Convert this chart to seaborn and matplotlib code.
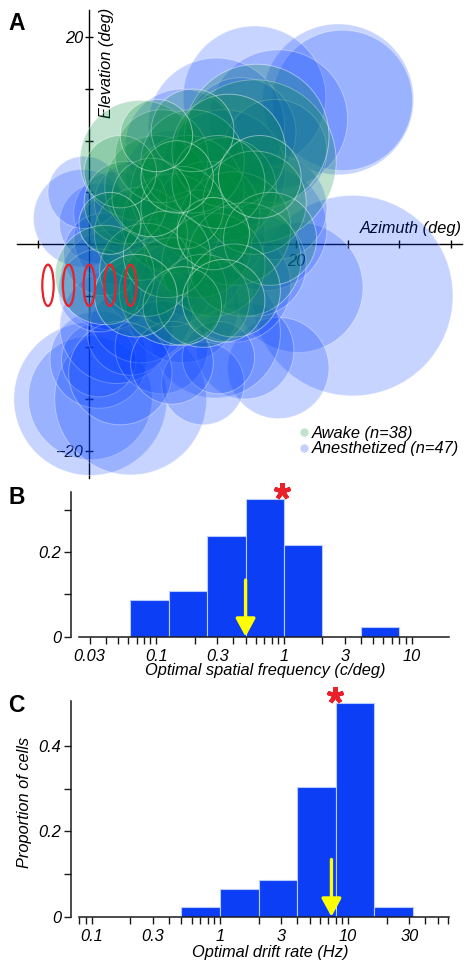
import numpy as np
import pandas as pd
import matplotlib
matplotlib.use("Agg")
import matplotlib.pyplot as plt
import seaborn as sns
from matplotlib.patches import Circle, Ellipse
from matplotlib.lines import Line2D
from matplotlib.ticker import FixedLocator, FixedFormatter, NullLocator

# ---------------- data ----------------
# Panel A: receptive fields (centre azimuth, centre elevation, radius), degrees
awake_x = [4.9, 16.0, 16.2, 13.1, 6.5, 9.5, 11.5, 8.0, 10.5, 14.0, 12.0, 8.1, 5.0,
           3.5, 7.0, 10.0, 13.5, 16.0, 15.0, 11.0, 5.5, 1.5, 9.0, 12.5, 7.5, 6.0,
           17.5, 14.0, 9.0, 3.0, 10.0, 12.0, 4.5, 16.5, 8.5, 2.0, 13.0, 6.5]
awake_y = [8.1, 8.0, 10.4, 5.3, 5.5, 5.0, 3.0, 2.0, 0.0, 1.5, -2.0, -4.6, 1.0,
           4.0, 8.5, 8.0, 9.0, 4.0, -1.5, -5.5, -2.5, -3.0, 3.5, 6.0, -1.0, 4.5,
           0.5, -4.5, -6.0, 7.0, 11.0, 1.0, -5.0, 6.5, 6.5, 2.0, -5.5, 10.5]
awake_r = [5.8, 7.9, 7.0, 5.0, 5.0, 5.5, 5.0, 4.8, 5.2, 5.5, 5.0, 5.2, 4.5,
           4.0, 4.5, 5.0, 5.5, 5.0, 5.5, 4.5, 4.5, 4.8, 4.0, 4.5, 4.2, 3.8,
           4.5, 4.5, 3.8, 3.5, 4.0, 3.5, 4.0, 4.0, 3.5, 3.0, 4.0, 3.5]

anes_x = [24.1, 24.5, 16.0, 18.3, 12.3, 14.7, 25.5, 20.2, 18.3, 15.1, 12.2, 0.1,
          0.1, 4.0, 0.9, 0.9, 2.65, 3.9, -0.7, 1.0, 2.0, 17.0, 3.0, 6.0, 9.0,
          2.5, 14.0, 10.0, 5.0, 7.5, 18.0, 12.0, 1.5, -0.5, 16.0, 7.0, 11.0,
          3.0, 8.0, 9.0, 13.0, 18.0, 4.5, 8.0, 1.0, 12.5, 8.0]
anes_y = [14.0, 13.9, 14.2, 12.1, 11.4, 10.8, -5.0, -4.2, -12.0, -10.3, -8.6, -15.0,
          -14.9, -15.0, -11.2, -11.2, -8.0, -8.6, 2.5, 2.0, -3.5, 1.5, 0.5, -3.0, -6.0,
          3.0, -4.0, -2.0, -6.5, 2.0, 3.5, 1.0, -1.0, 5.0, -2.0, -10.0, -13.5,
          -12.5, 6.5, 9.5, 7.0, 9.0, 4.0, -4.0, -4.5, -11.0, -11.5]
anes_r = [7.3, 6.8, 6.9, 6.7, 6.6, 5.3, 9.7, 6.3, 4.9, 4.7, 6.3, 7.4,
          6.0, 7.35, 4.7, 3.6, 5.5, 4.1, 4.7, 3.9, 4.8, 6.0, 4.5, 5.0, 5.5,
          4.0, 5.5, 5.0, 5.0, 4.5, 5.0, 5.0, 4.0, 3.5, 5.0, 4.5, 4.0,
          5.0, 4.5, 5.5, 6.0, 5.0, 4.0, 4.0, 4.0, 3.5, 4.0]

ellipse_x = [-4, -2, 0, 2, 4]
ellipse_y = [-4, -4, -4, -4, -4]

legend_labels = ["Awake (n=38)", "Anesthetized (n=47)"]
A_xticks = [-5, 0, 5, 10, 15, 20, 25, 30, 35]
A_xticklabels = ["", "", "", "", "", "20", "", "", ""]
A_yticks = [-20, -15, -10, -5, 0, 5, 10, 15, 20]
A_yticklabels = ["\u221220", "", "", "", "", "", "", "", "20"]

# Panel B: optimal spatial frequency
sf_edges = [0.0625, 0.125, 0.25, 0.5, 1, 2, 4, 8]
sf_props = [0.087, 0.109, 0.239, 0.326, 0.217, 0.0, 0.022]
sf_median = 0.5
sf_star = (0.96, 0.344)
sf_ticks = [0.03, 0.04, 0.05, 0.06, 0.07, 0.08, 0.09, 0.1, 0.2, 0.3, 0.4, 0.5,
            0.6, 0.7, 0.8, 0.9, 1, 2, 3, 4, 5, 6, 7, 8, 9, 10]
sf_labelled = {0.03: "0.03", 0.1: "0.1", 0.3: "0.3", 1: "1", 3: "3", 10: "10"}
B_yticks = [0, 0.1, 0.2, 0.3]
B_yticklabels = ["0", "", "0.2", ""]

# Panel C: optimal drift rate
tf_edges = [0.5, 1, 2, 4, 8, 16, 32]
tf_props = [0.022, 0.065, 0.087, 0.304, 0.5, 0.022]
tf_median = 7.4
tf_star = (7.9, 0.52)
tf_ticks = [0.08, 0.09, 0.1, 0.2, 0.3, 0.4, 0.5, 0.6, 0.7, 0.8, 0.9, 1, 2, 3, 4,
            5, 6, 7, 8, 9, 10, 20, 30, 40, 50, 60]
tf_labelled = {0.1: "0.1", 0.3: "0.3", 1: "1", 3: "3", 10: "10", 30: "30"}
C_yticks = [0, 0.1, 0.2, 0.3, 0.4]
C_yticklabels = ["0", "", "0.2", "", "0.4"]

# ---------------- style ----------------
sns.set_style("ticks")
plt.rcParams['font.family'] = ['Liberation Sans', 'DejaVu Sans']
plt.rcParams['font.style'] = 'italic'
plt.rcParams['font.size'] = 11.8
plt.rcParams['text.color'] = 'black'
plt.rcParams['axes.labelcolor'] = 'black'
plt.rcParams['xtick.color'] = 'black'
plt.rcParams['ytick.color'] = 'black'

BAR = '#0b3ef5'
BAR_EDGE = '#b8ccff'
YELLOW = '#ffff00'
RED = '#e8212b'

W, H = 471, 971
fig = plt.figure(figsize=(W / 100, H / 100), dpi=100)


def fx(px):
    return px / W


def fy(py):
    return 1 - py / H


# ---------------- Panel A ----------------
PPD = 10.33          # pixels per degree
ox, oy = 89.3, 244.0  # origin in pixels
axA = fig.add_axes([0, fy(490), 1, 490 / H])
axA.set_facecolor('none')
axA.set_xlim(-ox / PPD, (W - ox) / PPD)
axA.set_ylim((oy - 490) / PPD, oy / PPD)

for x, y, r in zip(anes_x, anes_y, anes_r):
    axA.add_patch(Circle((x, y), r, facecolor=(0.0, 0.24, 1.0, 0.22),
                         edgecolor=(1, 1, 1, 0.35), lw=0.7, zorder=1))
for x, y, r in zip(awake_x, awake_y, awake_r):
    axA.add_patch(Circle((x, y), r, facecolor=(0.0, 0.55, 0.24, 0.25),
                         edgecolor=(1, 1, 1, 0.45), lw=0.7, zorder=1.1))
for ex, ey in zip(ellipse_x, ellipse_y):
    axA.add_patch(Ellipse((ex, ey), 1.1, 4.0, fill=False, edgecolor=RED,
                          lw=1.6, zorder=4))

for s in ['top', 'right']:
    axA.spines[s].set_visible(False)
axA.spines['left'].set_position(('data', 0))
axA.spines['bottom'].set_position(('data', 0))
axA.spines['left'].set_bounds(-22.65, 22.65)
axA.spines['bottom'].set_bounds(-7.03, 36.05)
for s in ['left', 'bottom']:
    axA.spines[s].set_linewidth(1.0)
    axA.spines[s].set_color('black')
    axA.spines[s].set_zorder(0.6)
axA.set_xticks(A_xticks)
axA.set_xticklabels(A_xticklabels)
axA.set_yticks(A_yticks)
axA.set_yticklabels(A_yticklabels)
axA.tick_params(direction='inout', length=6, width=1.0, labelsize=11.8, color='black',
                labelcolor='black')
axA.tick_params(axis='x', pad=4)
axA.tick_params(axis='y', pad=1)
axA.set_xlabel("Azimuth (deg)", ha='right', va='center', fontsize=11.8, color='black')
axA.xaxis.set_label_coords(462 / W, (490 - 229) / 490)
axA.set_ylabel("Elevation (deg)", ha='center', va='center', fontsize=11.8, color='black')
axA.yaxis.set_label_coords(106 / W, (490 - 63) / 490)

handles = [Line2D([], [], ls='', marker='o', ms=6, markerfacecolor='#bfe3cd', markeredgecolor='none'),
           Line2D([], [], ls='', marker='o', ms=6, markerfacecolor='#c3d2fb', markeredgecolor='none')]
leg = axA.legend(handles, legend_labels, loc='center left',
                 bbox_to_anchor=(298 / W, (490 - 441) / 490), frameon=False,
                 handlelength=0.7, handletextpad=0.15, borderpad=0, borderaxespad=0,
                 labelspacing=0.05, prop={'style': 'italic', 'size': 11.8},
                 labelcolor='black')
leg.set_zorder(5)

# ---------------- Panel B ----------------
axB = fig.add_axes([fx(79), fy(636.7), (449.3 - 79) / W, (636.7 - 491.7) / H])
sf_e = np.array(sf_edges, dtype=float)
dfB = pd.DataFrame({'sf': np.sqrt(sf_e[:-1] * sf_e[1:]), 'prop': sf_props})
sns.histplot(data=dfB, x='sf', weights='prop', bins=[float(v) for v in np.log10(sf_e)],
             log_scale=True, color=BAR, edgecolor=BAR_EDGE, linewidth=0.8, alpha=1, ax=axB)

# ---------------- Panel C ----------------
axC = fig.add_axes([fx(79), fy(916.7), (449.3 - 79) / W, (916.7 - 700.7) / H])
tf_e = np.array(tf_edges, dtype=float)
dfC = pd.DataFrame({'tf': np.sqrt(tf_e[:-1] * tf_e[1:]), 'prop': tf_props})
sns.histplot(data=dfC, x='tf', weights='prop', bins=[float(v) for v in np.log10(tf_e)],
             log_scale=True, color=BAR, edgecolor=BAR_EDGE, linewidth=0.8, alpha=1, ax=axC)

for ax, xlim, ylim, xt, lab, yt, ytl, med, star in [
        (axB, (0.0248, 19.7), (0, 0.343), sf_ticks, sf_labelled, B_yticks, B_yticklabels, sf_median, sf_star),
        (axC, (0.0794, 61.5), (0, 0.506), tf_ticks, tf_labelled, C_yticks, C_yticklabels, tf_median, tf_star)]:
    ax.set_xscale('log')
    ax.set_xlim(*xlim)
    ax.set_ylim(*ylim)
    ax.set_facecolor('none')
    ax.xaxis.set_major_locator(FixedLocator(xt))
    ax.xaxis.set_major_formatter(FixedFormatter([lab.get(t, "") for t in xt]))
    ax.xaxis.set_minor_locator(NullLocator())
    ax.set_yticks(yt)
    ax.set_yticklabels(ytl)
    for s in ['top', 'right']:
        ax.spines[s].set_visible(False)
    ax.spines['left'].set_position(('outward', 5.8))
    for s in ['left', 'bottom']:
        ax.spines[s].set_linewidth(1.1)
        ax.spines[s].set_color('#1a1a1a')
    ax.tick_params(direction='out', length=5, width=1.0, labelsize=11.8, color='#1a1a1a',
                   labelcolor='black')
    ax.tick_params(axis='x', pad=3.5)
    ax.tick_params(axis='y', pad=2)
    ax.annotate('', xy=(med, 0), xytext=(med, 0.134),
                arrowprops=dict(arrowstyle='-|>,head_length=0.55,head_width=0.3',
                                mutation_scale=20, lw=2.4, color=YELLOW,
                                shrinkA=0, shrinkB=0), zorder=5)
    ax.plot([star[0]], [star[1]], ls='', marker=(5, 2, 0), ms=12, mew=3.0,
            color=RED, clip_on=False, zorder=6)

axB.set_ylabel("")
axB.set_xlabel("Optimal spatial frequency (c/deg)", va='center', fontsize=11.8, color='black')
axB.xaxis.set_label_coords((265 - 79) / 370.3, -(671 - 636.7) / 145)
axC.set_xlabel("Optimal drift rate (Hz)", va='center', fontsize=11.8, color='black')
axC.xaxis.set_label_coords((270.7 - 79) / 370.3, -(952.7 - 916.7) / 216)
axC.set_ylabel("Proportion of cells", ha='center', va='center', fontsize=11.8, color='black')
axC.yaxis.set_label_coords((25 - 79) / 370.3, (916.7 - 802.5) / 216)

# panel letters
for letter, bx, by in [("A", 8, 30.5), ("B", 8, 503.5), ("C", 8, 712)]:
    fig.text(fx(bx), fy(by), letter, fontsize=16.5, fontweight='bold', style='normal',
             ha='left', va='baseline', color='black')

fig.savefig("out.png", dpi=100)
